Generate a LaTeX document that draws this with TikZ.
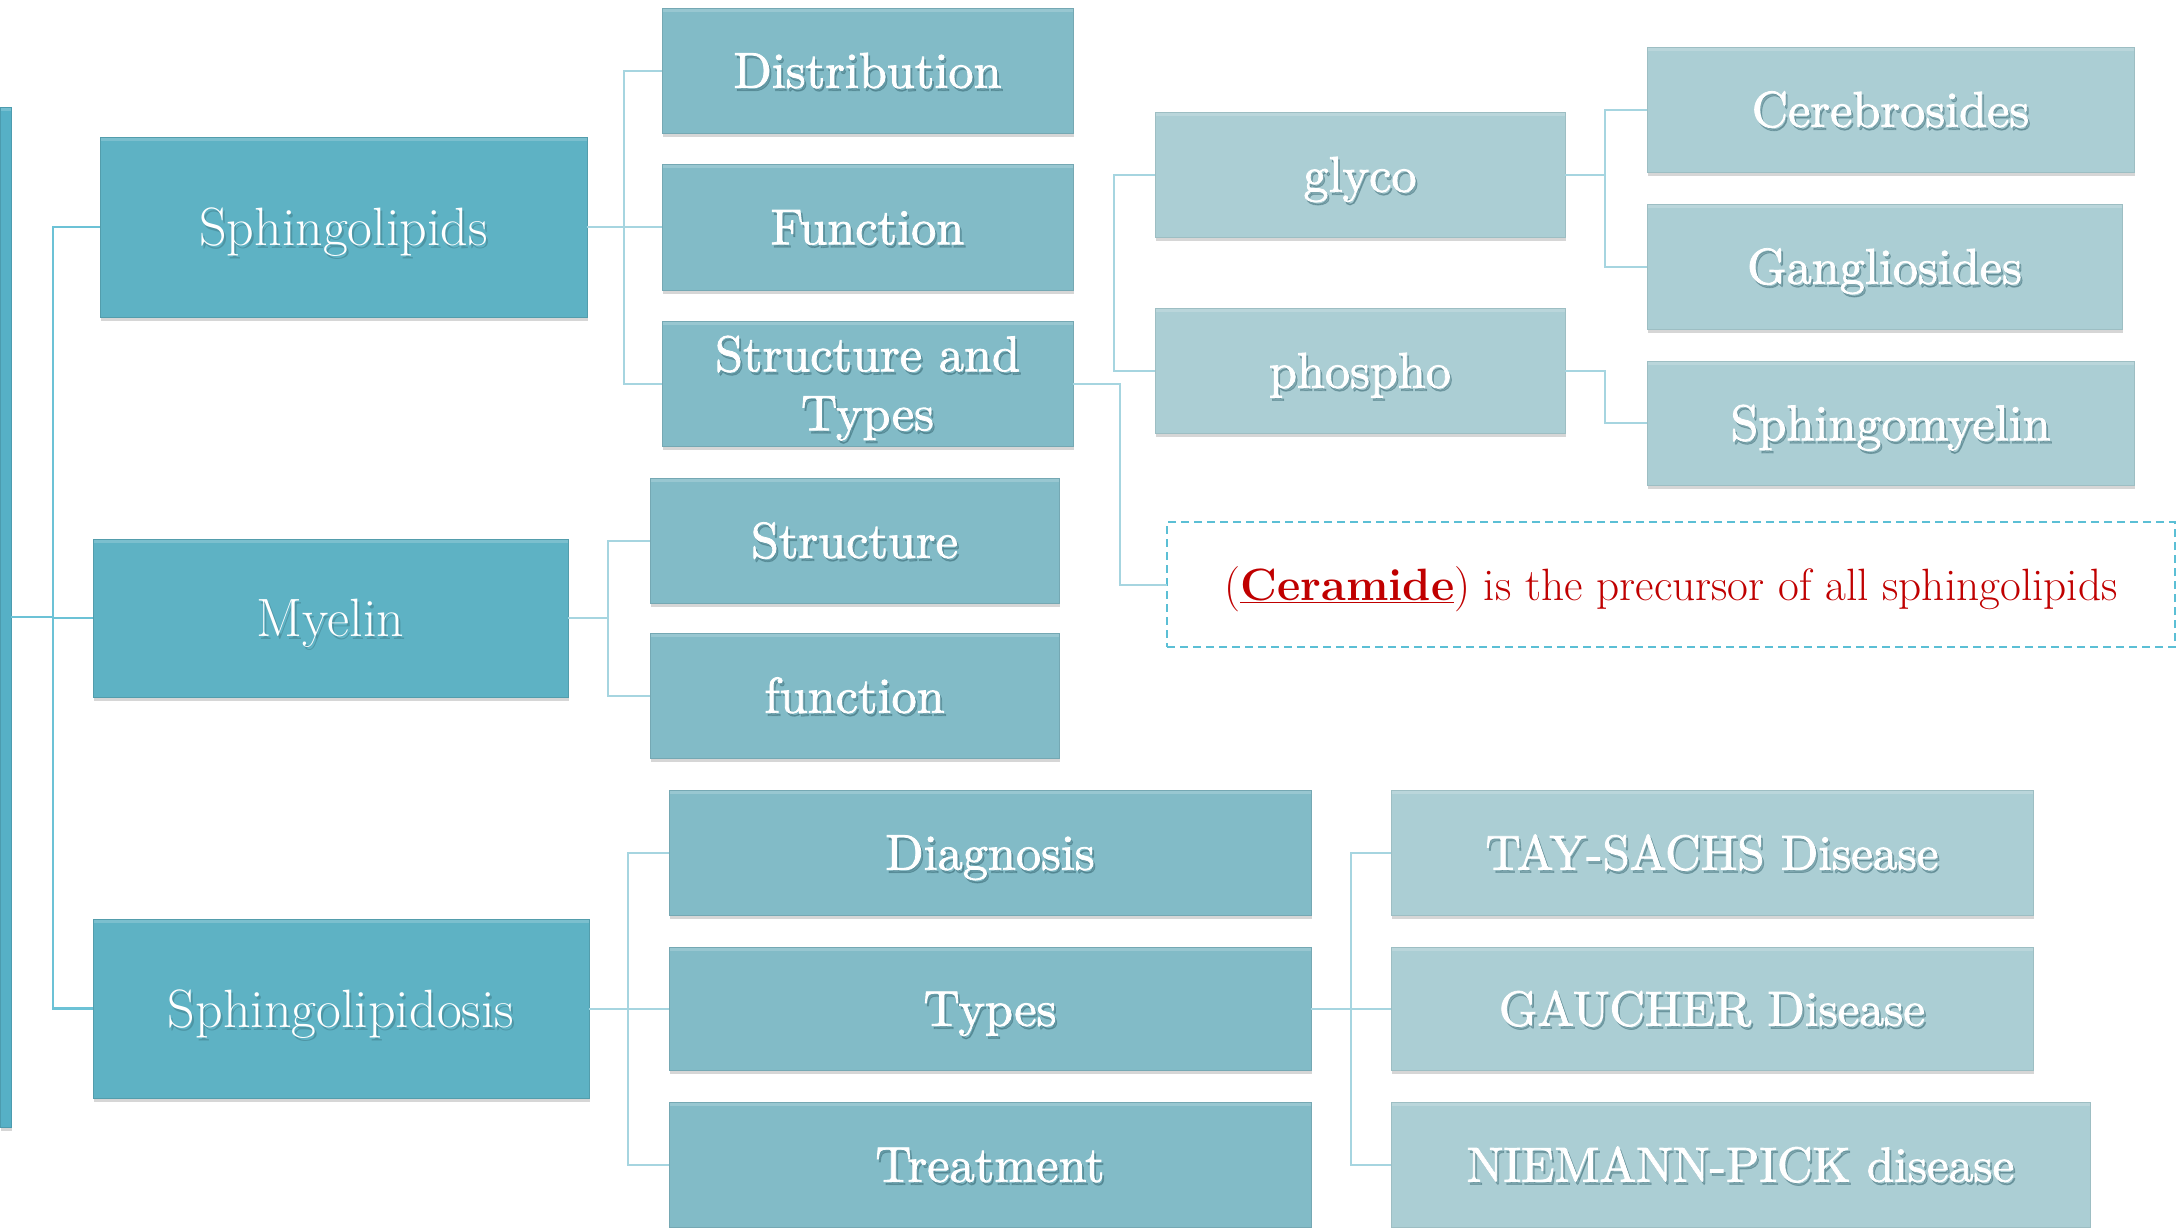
\documentclass[tikz,border=0pt]{standalone}
\usepackage{fontspec}
\newfontfamily\midfont{lmroman10-regular}[Extension=.otf, FakeBold=1.6]
\usetikzlibrary{shadows}
\definecolor{cA}{HTML}{5EB2C4}
\definecolor{cB}{HTML}{82BBC7}
\definecolor{cC}{HTML}{ABCED4}
\definecolor{cBar}{HTML}{56B0C6}
\definecolor{lnA}{HTML}{6CC2D6}
\definecolor{lnB}{HTML}{A6D5E0}
\definecolor{dashc}{HTML}{5BBFD5}
\definecolor{redc}{HTML}{C00000}
\definecolor{shc}{HTML}{2F5F6A}
\tikzset{
  boxbase/.style={rectangle, inner sep=0pt, outer sep=0pt,
    drop shadow={shadow xshift=1pt, shadow yshift=-4pt, opacity=0.16, fill=black},
    path picture={\fill[white, opacity=0.18] (path picture bounding box.north west) rectangle ([yshift=-4pt]path picture bounding box.north east);}},
  lvA/.style={boxbase, fill=cA, draw=cA!88!black, line width=0.8pt},
  lvB/.style={boxbase, fill=cB, draw=cB!90!black, line width=0.8pt},
  lvC/.style={boxbase, fill=cC, draw=cC!92!black, line width=0.8pt},
  txtA/.style={font=\fontsize{54}{64}\selectfont, inner sep=0pt, text height=37pt, text depth=0pt},
  txtB/.style={font=\midfont\fontsize{50.3}{60}\selectfont, inner sep=0pt, text height=34.5pt, text depth=0pt},
  txtD/.style={font=\midfont\fontsize{49}{60}\selectfont, inner sep=0pt, text height=34pt, text depth=0pt},
  conA/.style={draw=lnA, line width=2.6pt},
  conB/.style={draw=lnB, line width=2pt},
}
\newcommand\lbl[3]{%
  \node[#1, text=shc, opacity=0.35] at ([xshift=2pt,yshift=-3pt]#2) {#3};
  \node[#1, text=white] at (#2) {#3};}
\newcommand\bx[8]{%
  \node[#2, minimum width=#6pt-#4pt, minimum height=#7pt-#5pt] (#1) at ({(#4+#6)/2},{(#5+#7)/2}) {};
  \lbl{#3}{#1.center}{#8}}
\begin{document}
\begin{tikzpicture}[x=1pt,y=-1pt]
\fill[white] (0,0) rectangle (2177,1227);
\useasboundingbox (0,0) rectangle (2177,1227);
% level 0/1
\node[boxbase, fill=cBar, draw=cBar!88!black, line width=0.8pt, minimum width=11pt, minimum height=1020pt] (bar) at (5.5,617) {};
\bx{sph}{lvA}{txtA}{100}{137}{587}{317}{Sphingolipids}
\bx{mye}{lvA}{txtA}{93}{539}{568}{697}{Myelin}
\bx{spd}{lvA}{txtA}{93}{919}{589}{1098}{Sphingolipidosis}
% level 2
\bx{dist}{lvB}{txtB}{662}{8}{1073}{133}{Distribution}
\bx{func}{lvB}{txtB}{662}{164}{1073}{290}{Function}
\bx{stt}{lvB}{txtB}{662}{321}{1073}{446}{}
\coordinate (sttA) at ([yshift=29.5pt]stt.center);
\coordinate (sttB) at ([yshift=-29.5pt]stt.center);
\lbl{txtB}{sttA}{Structure and}
\lbl{txtB}{sttB}{Types}
\bx{struc}{lvB}{txtB}{650}{478}{1059}{603}{Structure}
\bx{func2}{lvB}{txtB}{650}{633}{1059}{758}{function}
\bx{diag}{lvB}{txtB}{669}{790}{1311}{915}{Diagnosis}
\bx{types}{lvB}{txtB}{669}{947}{1311}{1070}{Types}
\bx{treat}{lvB}{txtB}{669}{1102}{1311}{1227}{Treatment}
% level 3
\bx{glyco}{lvC}{txtB}{1155}{112}{1565}{237}{glyco}
\bx{phospho}{lvC}{txtB}{1155}{308}{1565}{433}{phospho}
\bx{cereb}{lvC}{txtB}{1647}{47}{2134}{172}{Cerebrosides}
\bx{gang}{lvC}{txtB}{1647}{204}{2122}{329}{Gangliosides}
\bx{sphm}{lvC}{txtB}{1647}{361}{2134}{485}{Sphingomyelin}
\bx{tay}{lvC}{txtD}{1391}{790}{2033}{915}{TAY-SACHS Disease}
\bx{gau}{lvC}{txtD}{1391}{947}{2033}{1070}{GAUCHER Disease}
\bx{nie}{lvC}{txtD}{1391}{1102}{2090}{1227}{NIEMANN-PICK disease}
% ceramide note
\node[draw=dashc, dash pattern=on 8pt off 5pt, line width=2pt, inner sep=0pt, outer sep=0pt,
  minimum width=1008pt, minimum height=125pt] (cer) at (1671,584.5) {};
\node[font=\fontsize{45.3}{52}\selectfont, text=redc, inner sep=0pt, text height=31pt, text depth=0pt]
  (certext) at (cer.center) {(\underline{\textbf{Ceramide}}) is the precursor of all sphingolipids};
% connectors
\coordinate (j0) at (53,617);
\draw[conA] (bar.east) -- (j0);
\draw[conA] (sph.west) -| (j0);
\draw[conA] (mye.west) -- (j0 |- mye.west);
\draw[conA] (spd.west) -| (j0);
\coordinate (j1) at (624,227);
\draw[conB] (sph.east) -- (j1 |- sph.east);
\draw[conB] (dist.west) -| (j1);
\draw[conB] (func.west) -- (j1 |- func.west);
\draw[conB] (stt.west) -| (j1);
\coordinate (j2) at (608,617);
\draw[conB] (mye.east) -- (j2 |- mye.east);
\draw[conB] (struc.west) -| (j2);
\draw[conB] (func2.west) -| (j2);
\coordinate (j3) at (628,1008);
\draw[conB] (spd.east) -- (j3 |- spd.east);
\draw[conB] (diag.west) -| (j3);
\draw[conB] (types.west) -- (j3 |- types.west);
\draw[conB] (treat.west) -| (j3);
\coordinate (j4) at (1351,1008);
\draw[conB] (types.east) -- (j4 |- types.east);
\draw[conB] (tay.west) -| (j4);
\draw[conB] (gau.west) -- (j4 |- gau.west);
\draw[conB] (nie.west) -| (j4);
\coordinate (j5) at (1114,370.5);
\draw[conB] (glyco.west) -| (j5) -- (phospho.west);
\coordinate (j6) at (1120,383.5);
\draw[conB] (stt.east) -- (j6 |- stt.east) -- (j6 |- cer.west) -- (cer.west);
\coordinate (j7) at (1605,174.5);
\draw[conB] (glyco.east) -- (j7 |- glyco.east);
\draw[conB] (cereb.west) -| (j7);
\draw[conB] (gang.west) -| (j7);
\coordinate (j8) at (1605,423);
\draw[conB] (phospho.east) -| (j8) -- (sphm.west);
\end{tikzpicture}
\end{document}
